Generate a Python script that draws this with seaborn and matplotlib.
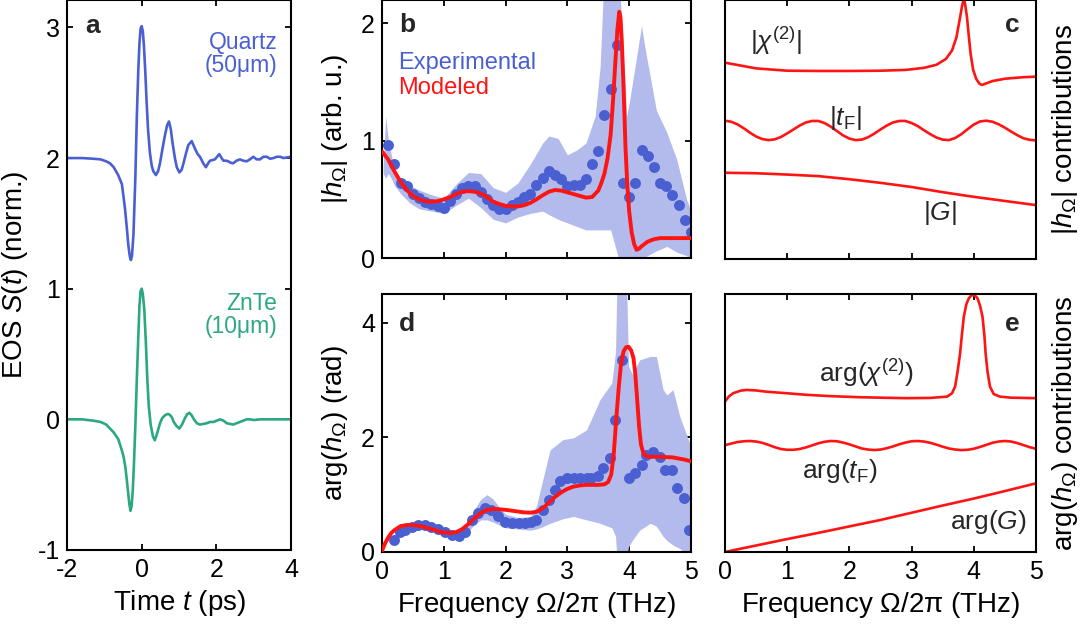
import matplotlib
matplotlib.use("Agg")
import matplotlib.pyplot as plt
import seaborn as sns

# ---------------- panel a: EOS time traces ----------------
quartz_t = [-2.0, -1.6, -1.3, -1.1, -0.95, -0.85, -0.75, -0.63, -0.53, -0.45,
            -0.40, -0.36, -0.32, -0.29, -0.26, -0.22, -0.17, -0.13, -0.09, -0.06,
            -0.03, 0.0, 0.03, 0.06, 0.10, 0.13, 0.17, 0.22, 0.27, 0.31,
            0.38, 0.44, 0.49, 0.55, 0.62, 0.68, 0.73, 0.78, 0.83, 0.89,
            0.94, 1.01, 1.07, 1.12, 1.19, 1.25, 1.34, 1.43, 1.50, 1.56,
            1.65, 1.72, 1.78, 1.83, 1.90, 1.96, 2.02, 2.08, 2.14, 2.19,
            2.26, 2.32, 2.38, 2.45, 2.54, 2.63, 2.72, 2.81, 2.90, 2.99,
            3.08, 3.17, 3.26, 3.35, 3.44, 3.53, 3.62, 3.71, 3.80, 3.89, 4.0]
quartz_s = [2.00, 2.00, 1.995, 1.99, 1.975, 1.96, 1.93, 1.87, 1.80, 1.62,
            1.47, 1.34, 1.25, 1.22, 1.25, 1.42, 1.85, 2.32, 2.68, 2.88,
            2.99, 3.01, 2.97, 2.86, 2.64, 2.44, 2.22, 2.04, 1.94, 1.90,
            1.87, 1.90, 1.96, 2.06, 2.17, 2.25, 2.28, 2.22, 2.11, 2.00,
            1.93, 1.89, 1.91, 1.96, 2.04, 2.10, 2.13, 2.07, 2.03, 2.01,
            1.96, 1.93, 1.96, 1.98, 1.985, 1.99, 2.01, 2.03, 2.00, 1.98,
            1.98, 1.975, 1.965, 1.96, 1.98, 1.99, 1.98, 1.975, 1.99, 2.01,
            1.99, 1.99, 2.01, 2.01, 1.995, 2.00, 2.01, 2.01, 2.00, 2.005, 2.01]

znte_t = [-2.0, -1.6, -1.3, -1.1, -0.95, -0.85, -0.75, -0.63, -0.55, -0.49,
          -0.44, -0.40, -0.36, -0.33, -0.30, -0.27, -0.24, -0.21, -0.17, -0.13,
          -0.09, -0.06, -0.03, 0.0, 0.03, 0.07, 0.11, 0.15, 0.19, 0.24,
          0.30, 0.35, 0.40, 0.45, 0.49, 0.55, 0.62, 0.68, 0.73, 0.80,
          0.86, 0.93, 1.01, 1.08, 1.16, 1.22, 1.28, 1.34, 1.40, 1.48,
          1.56, 1.65, 1.74, 1.83, 1.92, 2.01, 2.10, 2.19, 2.28, 2.37,
          2.45, 2.54, 2.63, 2.72, 2.81, 2.90, 3.00, 3.17, 3.35, 3.53, 3.71, 4.0]
znte_s = [0.0, 0.0, -0.01, -0.02, -0.04, -0.07, -0.10, -0.15, -0.22, -0.28,
          -0.36, -0.46, -0.57, -0.65, -0.70, -0.66, -0.55, -0.36, -0.05, 0.31,
          0.64, 0.87, 0.98, 1.00, 0.96, 0.84, 0.60, 0.31, 0.10, -0.04,
          -0.13, -0.16, -0.12, -0.07, -0.03, 0.01, 0.03, 0.04, 0.04, 0.02,
          -0.02, -0.05, -0.07, -0.04, 0.01, 0.04, 0.05, 0.03, 0.00, -0.03,
          -0.04, -0.035, -0.03, -0.02, -0.02, -0.01, 0.00, -0.01, -0.03, -0.035,
          -0.04, -0.03, -0.02, -0.01, 0.00, 0.00, -0.005, 0.0, 0.0, 0.0, 0.0, 0.0]

# ---------------- panel b: |h| ----------------
exp_b_f = [0.1, 0.2, 0.3, 0.4, 0.5, 0.6, 0.7, 0.8, 0.9, 1.0,
           1.1, 1.2, 1.3, 1.4, 1.5, 1.6, 1.7, 1.8, 1.9, 2.0,
           2.1, 2.2, 2.3, 2.4, 2.5, 2.6, 2.7, 2.8, 2.9, 3.0,
           3.1, 3.2, 3.3, 3.4, 3.5, 3.6, 3.7, 3.8, 3.9, 4.0,
           4.1, 4.2, 4.3, 4.4, 4.5, 4.6, 4.7, 4.8, 4.9, 5.0]
exp_b_v = [0.96, 0.80, 0.64, 0.61, 0.55, 0.51, 0.48, 0.46, 0.44, 0.43,
           0.49, 0.55, 0.60, 0.61, 0.61, 0.56, 0.50, 0.45, 0.42, 0.42,
           0.45, 0.48, 0.52, 0.55, 0.62, 0.68, 0.74, 0.71, 0.67, 0.61,
           0.62, 0.62, 0.67, 0.80, 0.91, 1.22, 1.44, 1.82, 0.64, 0.52,
           0.64, 0.92, 0.87, 0.78, 0.64, 0.61, 0.54, 0.45, 0.32, 0.22]

band_b_f = [0.02, 0.06, 0.1, 0.15, 0.2, 0.3, 0.45, 0.6, 0.8, 1.0,
            1.2, 1.4, 1.6, 1.8, 2.0, 2.2, 2.4, 2.6, 2.7, 2.85,
            3.0, 3.15, 3.3, 3.45, 3.53, 3.6, 3.7, 3.8, 3.85, 3.96,
            4.01, 4.2, 4.26, 4.44, 4.61, 4.77, 4.93, 5.0]
band_b_hi = [0.78, 1.21, 1.02, 0.88, 0.76, 0.68, 0.62, 0.58, 0.54, 0.51,
             0.63, 0.73, 0.72, 0.60, 0.56, 0.64, 0.80, 0.98, 1.04, 1.02,
             0.88, 0.92, 0.98, 1.21, 1.63, 2.5, 2.9, 2.6, 2.3, 1.21,
             1.35, 1.98, 1.78, 1.26, 1.07, 0.84, 0.50, 0.40]
band_b_lo = [0.72, 0.68, 0.72, 0.68, 0.62, 0.55, 0.47, 0.42, 0.40, 0.38,
             0.45, 0.51, 0.43, 0.33, 0.30, 0.35, 0.38, 0.40, 0.37, 0.33,
             0.30, 0.27, 0.24, 0.24, 0.24, 0.24, 0.24, 0.05, -0.05, -0.10,
             -0.08, 0.0, 0.01, 0.06, 0.10, 0.05, 0.02, -0.02]

model_b_f = [0.0, 0.1, 0.2, 0.3, 0.4, 0.5, 0.6, 0.7, 0.8, 0.9,
             1.0, 1.1, 1.2, 1.3, 1.4, 1.5, 1.6, 1.7, 1.8, 1.9,
             2.0, 2.1, 2.2, 2.3, 2.4, 2.5, 2.6, 2.7, 2.8, 2.9,
             3.0, 3.1, 3.2, 3.3, 3.4, 3.5, 3.55, 3.6, 3.65, 3.7,
             3.74, 3.78, 3.81, 3.84, 3.86, 3.88, 3.91, 3.94, 3.97, 4.0,
             4.04, 4.08, 4.12, 4.16, 4.2, 4.3, 4.4, 4.5, 4.6, 4.8, 5.0]
model_b_v = [0.91, 0.84, 0.74, 0.65, 0.58, 0.53, 0.50, 0.485, 0.48, 0.485,
             0.50, 0.52, 0.545, 0.565, 0.57, 0.565, 0.55, 0.52, 0.48, 0.46,
             0.445, 0.44, 0.44, 0.45, 0.47, 0.50, 0.535, 0.565, 0.58, 0.575,
             0.56, 0.545, 0.53, 0.515, 0.52, 0.575, 0.64, 0.72, 0.85, 1.05,
             1.35, 1.70, 1.95, 2.10, 2.05, 1.86, 1.45, 0.95, 0.62, 0.40,
             0.22, 0.12, 0.07, 0.08, 0.10, 0.14, 0.16, 0.17, 0.17, 0.17, 0.17]

# ---------------- panel d: arg(h) ----------------
exp_d_f = [0.19, 0.29, 0.37, 0.48, 0.59, 0.70, 0.80, 0.91, 1.02, 1.13,
           1.24, 1.34, 1.45, 1.56, 1.67, 1.77, 1.88, 1.99, 2.10, 2.21,
           2.31, 2.41, 2.50, 2.61, 2.71, 2.80, 2.88, 2.99, 3.10, 3.20,
           3.31, 3.39, 3.50, 3.58, 3.69, 3.77, 3.88, 3.99, 4.09, 4.20,
           4.28, 4.39, 4.50, 4.58, 4.69, 4.77, 4.88, 4.97]
exp_d_v = [0.21, 0.35, 0.38, 0.43, 0.47, 0.47, 0.43, 0.40, 0.35, 0.30,
           0.27, 0.35, 0.56, 0.68, 0.76, 0.73, 0.62, 0.53, 0.50, 0.50,
           0.50, 0.53, 0.56, 0.73, 0.90, 1.08, 1.23, 1.29, 1.29, 1.29,
           1.29, 1.29, 1.32, 1.46, 1.64, 2.31, 3.35, 1.29, 1.37, 1.52,
           1.69, 1.75, 1.66, 1.43, 1.43, 1.11, 0.94, 0.38]

band_d_f = [0.15, 0.2, 0.3, 0.4, 0.6, 0.8, 1.0, 1.2, 1.35, 1.5,
            1.6, 1.7, 1.8, 1.9, 2.0, 2.2, 2.4, 2.5, 2.6, 2.72,
            2.93, 3.10, 3.31, 3.53, 3.72, 3.78, 3.80, 3.96, 3.99, 4.05,
            4.17, 4.34, 4.44, 4.55, 4.61, 4.71, 4.82, 4.93, 5.0]
band_d_hi = [0.25, 0.30, 0.42, 0.48, 0.52, 0.50, 0.42, 0.36, 0.45, 0.75,
             0.92, 1.00, 0.92, 0.78, 0.66, 0.60, 0.62, 0.80, 1.25, 1.78,
             1.96, 1.99, 2.13, 2.66, 2.95, 3.50, 4.60, 4.60, 3.24, 3.10,
             3.35, 3.41, 3.41, 2.83, 2.74, 2.83, 2.36, 2.04, 1.84]
band_d_lo = [0.15, 0.14, 0.28, 0.34, 0.40, 0.36, 0.28, 0.22, 0.30, 0.48,
             0.56, 0.56, 0.52, 0.47, 0.42, 0.40, 0.38, 0.40, 0.44, 0.50,
             0.58, 0.62, 0.56, 0.50, 0.42, 0.27, -0.10, -0.10, 0.09, 0.20,
             0.38, 0.50, 0.45, 0.27, 0.20, 0.12, 0.06, -0.05, -0.10]

model_d_f = [0.0, 0.05, 0.1, 0.15, 0.2, 0.3, 0.4, 0.5, 0.6, 0.7,
             0.8, 0.9, 1.0, 1.1, 1.2, 1.3, 1.4, 1.5, 1.6, 1.7,
             1.8, 1.9, 2.0, 2.1, 2.2, 2.3, 2.4, 2.5, 2.6, 2.7,
             2.8, 2.9, 3.0, 3.1, 3.2, 3.3, 3.4, 3.5, 3.6, 3.66,
             3.71, 3.75, 3.79, 3.83, 3.87, 3.91, 3.95, 3.99, 4.03, 4.07,
             4.10, 4.13, 4.16, 4.19, 4.23, 4.28, 4.35, 4.5, 4.7, 4.9, 5.0]
model_d_v = [0.02, 0.15, 0.25, 0.33, 0.38, 0.45, 0.47, 0.47, 0.455, 0.43,
             0.40, 0.365, 0.34, 0.33, 0.345, 0.40, 0.49, 0.59, 0.68, 0.735,
             0.75, 0.745, 0.735, 0.72, 0.705, 0.69, 0.685, 0.70, 0.76, 0.86,
             0.96, 1.04, 1.10, 1.14, 1.16, 1.17, 1.17, 1.17, 1.18, 1.22,
             1.35, 1.70, 2.30, 2.85, 3.30, 3.50, 3.57, 3.58, 3.52, 3.38,
             3.10, 2.65, 2.20, 1.88, 1.72, 1.67, 1.66, 1.66, 1.65, 1.61, 1.58]

# ---------------- panels c, e: contributions (offset, arb. units) ----------------
chi_abs_f = [0.0, 0.5, 1.0, 1.5, 2.0, 2.5, 2.9, 3.2, 3.4, 3.55,
             3.65, 3.72, 3.77, 3.81, 3.84, 3.86, 3.89, 3.92, 3.95, 3.99,
             4.04, 4.09, 4.13, 4.2, 4.3, 4.5, 4.8, 5.0]
chi_abs_v = [0.758, 0.736, 0.727, 0.726, 0.726, 0.727, 0.730, 0.738, 0.750, 0.772,
             0.805, 0.855, 0.920, 0.975, 1.005, 0.985, 0.935, 0.860, 0.790, 0.730,
             0.695, 0.677, 0.672, 0.678, 0.687, 0.696, 0.702, 0.704]

tf_abs_f = [round(0.1 * i, 1) for i in range(51)]
tf_abs_v = [0.534, 0.530, 0.520, 0.505, 0.488, 0.473, 0.463, 0.459, 0.462, 0.471,
            0.485, 0.500, 0.515, 0.527, 0.533, 0.533, 0.525, 0.511, 0.494, 0.477,
            0.465, 0.459, 0.461, 0.470, 0.484, 0.500, 0.515, 0.527, 0.533, 0.533,
            0.525, 0.513, 0.497, 0.482, 0.469, 0.461, 0.459, 0.467, 0.482, 0.501,
            0.519, 0.531, 0.534, 0.530, 0.520, 0.507, 0.492, 0.478, 0.466, 0.460,
            0.458]

g_abs_f = [0.0, 0.5, 1.0, 1.5, 2.0, 2.5, 3.0, 3.5, 4.0, 4.5, 5.0]
g_abs_v = [0.333, 0.331, 0.326, 0.320, 0.308, 0.294, 0.278, 0.258, 0.240, 0.224, 0.208]

chi_arg_f = [0.0, 0.06, 0.13, 0.25, 0.35, 0.5, 0.67, 1.0, 1.31, 1.7,
             2.12, 2.5, 2.92, 3.3, 3.57, 3.65, 3.70, 3.74, 3.78, 3.81,
             3.84, 3.88, 3.92, 3.96, 3.99, 4.02, 4.06, 4.10, 4.14, 4.17,
             4.19, 4.22, 4.26, 4.32, 4.42, 4.6, 5.0]
chi_arg_v = [0.583, 0.602, 0.615, 0.625, 0.628, 0.626, 0.621, 0.615, 0.609, 0.604,
             0.600, 0.598, 0.596, 0.597, 0.602, 0.615, 0.641, 0.700, 0.770, 0.845,
             0.912, 0.960, 0.983, 0.994, 0.996, 0.994, 0.983, 0.955, 0.912, 0.840,
             0.770, 0.700, 0.641, 0.612, 0.602, 0.598, 0.596]

tf_arg_f = [round(0.1 * i, 1) for i in range(51)]
tf_arg_v = [0.414, 0.420, 0.426, 0.429, 0.430, 0.428, 0.423, 0.415, 0.406, 0.399,
            0.396, 0.396, 0.399, 0.405, 0.413, 0.421, 0.427, 0.430, 0.429, 0.424,
            0.417, 0.409, 0.401, 0.397, 0.395, 0.397, 0.402, 0.409, 0.417, 0.424,
            0.429, 0.430, 0.428, 0.423, 0.416, 0.408, 0.401, 0.397, 0.395, 0.396,
            0.400, 0.407, 0.415, 0.423, 0.428, 0.430, 0.428, 0.422, 0.414, 0.406,
            0.400]

g_arg_f = [0.0, 0.5, 1.0, 1.5, 2.0, 2.5, 3.0, 3.5, 4.0, 4.5, 5.0]
g_arg_v = [0.0, 0.025, 0.050, 0.074, 0.099, 0.124, 0.152, 0.180, 0.207, 0.236, 0.266]

freq_ticks = [0, 1, 2, 3, 4, 5]

# ---------------- styling ----------------
BLUE = "#4a5fd1"
GREEN = "#2ba781"
BAND = "#b2bbeb"
RED = "#ff1414"
GREY = "#262626"

sns.set_theme(style="ticks")
plt.rcParams.update({
    "font.family": ["Liberation Sans", "DejaVu Sans"],
    "mathtext.fontset": "custom",
    "mathtext.rm": "Liberation Sans",
    "mathtext.it": "Liberation Sans:italic",
    "mathtext.bf": "Liberation Sans:bold",
    "axes.unicode_minus": False,
    "axes.linewidth": 1.5,
    "axes.edgecolor": "black",
    "axes.labelcolor": "black",
    "text.color": "black",
    "xtick.color": "black",
    "ytick.color": "black",
    "xtick.direction": "in",
    "ytick.direction": "in",
    "xtick.top": True,
    "ytick.right": True,
    "xtick.major.size": 4.5,
    "ytick.major.size": 4.5,
    "xtick.major.width": 1.3,
    "ytick.major.width": 1.3,
    "xtick.major.pad": 6,
    "ytick.major.pad": 5,
    "xtick.labelsize": 18,
    "ytick.labelsize": 18,
    "axes.labelsize": 20,
})

FREQ_LABEL = r"Frequency $\mathit{Ω}$/2π (THz)"

fig = plt.figure(figsize=(10.83, 6.39), dpi=100)
ax_a = fig.add_axes([0.0619, 0.1393, 0.2068, 0.8607])
ax_b = fig.add_axes([0.3527, 0.5962, 0.2853, 0.4038])
ax_d = fig.add_axes([0.3527, 0.1362, 0.2853, 0.4038])
ax_c = fig.add_axes([0.6694, 0.5947, 0.2872, 0.4053])
ax_e = fig.add_axes([0.6694, 0.1362, 0.2872, 0.4038])

# ---- a ----
sns.lineplot(x=quartz_t, y=quartz_s, ax=ax_a, color=BLUE, lw=1.9, sort=False, estimator=None)
sns.lineplot(x=znte_t, y=znte_s, ax=ax_a, color=GREEN, lw=1.9, sort=False, estimator=None)
ax_a.set_xlim(-2, 4)
ax_a.set_ylim(-1, 3.21)
ax_a.set_xticks([-2, 0, 2, 4])
ax_a.set_yticks([-1, 0, 1, 2, 3])
ax_a.set_xlabel("Time $t$ (ps)", labelpad=4)
ax_a.set_ylabel("EOS $S(t)$ (norm.)", labelpad=6)
ax_a.text(0.08, 0.953, "a", transform=ax_a.transAxes, fontsize=19, fontweight="bold",
          color=GREY, va="center", ha="left")
ax_a.text(3.63, 2.80, "Quartz\n(50μm)", color=BLUE, fontsize=16.5, ha="right",
          va="center", linespacing=1.0)
ax_a.text(3.63, 0.80, "ZnTe\n(10μm)", color=GREEN, fontsize=16.5, ha="right",
          va="center", linespacing=1.0)

# ---- b ----
ax_b.fill_between(band_b_f, band_b_lo, band_b_hi, color=BAND, lw=0, zorder=1)
sns.scatterplot(x=exp_b_f, y=exp_b_v, ax=ax_b, color=BLUE, s=62, linewidth=0, zorder=2)
sns.lineplot(x=model_b_f, y=model_b_v, ax=ax_b, color=RED, lw=2.8, sort=False,
             estimator=None, zorder=3)
ax_b.set_xlim(0, 5)
ax_b.set_ylim(0, 2.2)
ax_b.set_xticks(freq_ticks)
ax_b.set_yticks([0, 1, 2])
ax_b.tick_params(labelbottom=False)
ax_b.set_ylabel(r"$|h_{\Omega}|$ (arb. u.)", labelpad=8)
ax_b.text(0.055, 0.905, "b", transform=ax_b.transAxes, fontsize=19, fontweight="bold",
          color=GREY, va="center", ha="left")
ax_b.text(0.052, 0.756, "Experimental", transform=ax_b.transAxes, fontsize=17,
          color=BLUE, va="center", ha="left")
ax_b.text(0.052, 0.659, "Modeled", transform=ax_b.transAxes, fontsize=17,
          color=RED, va="center", ha="left")

# ---- d ----
ax_d.fill_between(band_d_f, band_d_lo, band_d_hi, color=BAND, lw=0, zorder=1)
sns.scatterplot(x=exp_d_f, y=exp_d_v, ax=ax_d, color=BLUE, s=62, linewidth=0, zorder=2)
sns.lineplot(x=model_d_f, y=model_d_v, ax=ax_d, color=RED, lw=2.8, sort=False,
             estimator=None, zorder=3)
ax_d.set_xlim(0, 5)
ax_d.set_ylim(0, 4.5)
ax_d.set_xticks(freq_ticks)
ax_d.set_yticks([0, 2, 4])
ax_d.set_xlabel(FREQ_LABEL, labelpad=4)
ax_d.set_ylabel(r"arg($h_{\Omega}$) (rad)", labelpad=8)
ax_d.text(0.055, 0.884, "d", transform=ax_d.transAxes, fontsize=19, fontweight="bold",
          color=GREY, va="center", ha="left")

# ---- c ----
for fx, fy in [(chi_abs_f, chi_abs_v), (tf_abs_f, tf_abs_v), (g_abs_f, g_abs_v)]:
    sns.lineplot(x=fx, y=fy, ax=ax_c, color=RED, lw=1.9, sort=False, estimator=None)
ax_c.set_xlim(0, 5)
ax_c.set_ylim(0, 1)
ax_c.set_xticks(freq_ticks)
ax_c.set_yticks([])
ax_c.tick_params(labelbottom=False)
ax_c.yaxis.set_label_position("right")
ax_c.set_ylabel(r"$|h_{\Omega}|$ contributions", labelpad=10)
ax_c.text(0.82, 0.84, r"$|\chi^{(2)}|$", fontsize=19, color=GREY, ha="center", va="center")
ax_c.text(1.93, 0.545, r"$|t_{\rm F}|$", fontsize=19, color=GREY, ha="center", va="center")
ax_c.text(3.45, 0.178, r"$|G|$", fontsize=19, color=GREY, ha="center", va="center")
ax_c.text(0.923, 0.903, "c", transform=ax_c.transAxes, fontsize=19, fontweight="bold",
          color=GREY, va="center", ha="center")

# ---- e ----
for fx, fy in [(chi_arg_f, chi_arg_v), (tf_arg_f, tf_arg_v), (g_arg_f, g_arg_v)]:
    sns.lineplot(x=fx, y=fy, ax=ax_e, color=RED, lw=1.9, sort=False, estimator=None)
ax_e.set_xlim(0, 5)
ax_e.set_ylim(0, 1)
ax_e.set_xticks(freq_ticks)
ax_e.set_yticks([])
ax_e.yaxis.set_label_position("right")
ax_e.set_xlabel(FREQ_LABEL, labelpad=4)
ax_e.set_ylabel(r"arg($h_{\Omega}$) contributions", labelpad=10)
ax_e.text(2.28, 0.694, r"arg($\chi^{(2)}$)", fontsize=19, color=GREY, ha="center", va="center")
ax_e.text(1.85, 0.314, r"arg($t_{\rm F}$)", fontsize=19, color=GREY, ha="center", va="center")
ax_e.text(4.24, 0.116, r"arg($G$)", fontsize=19, color=GREY, ha="center", va="center")
ax_e.text(0.923, 0.884, "e", transform=ax_e.transAxes, fontsize=19, fontweight="bold",
          color=GREY, va="center", ha="center")

for ax in (ax_c, ax_e):
    ax.tick_params(axis="y", left=False, right=False)

fig.savefig("out.png", dpi=100)
